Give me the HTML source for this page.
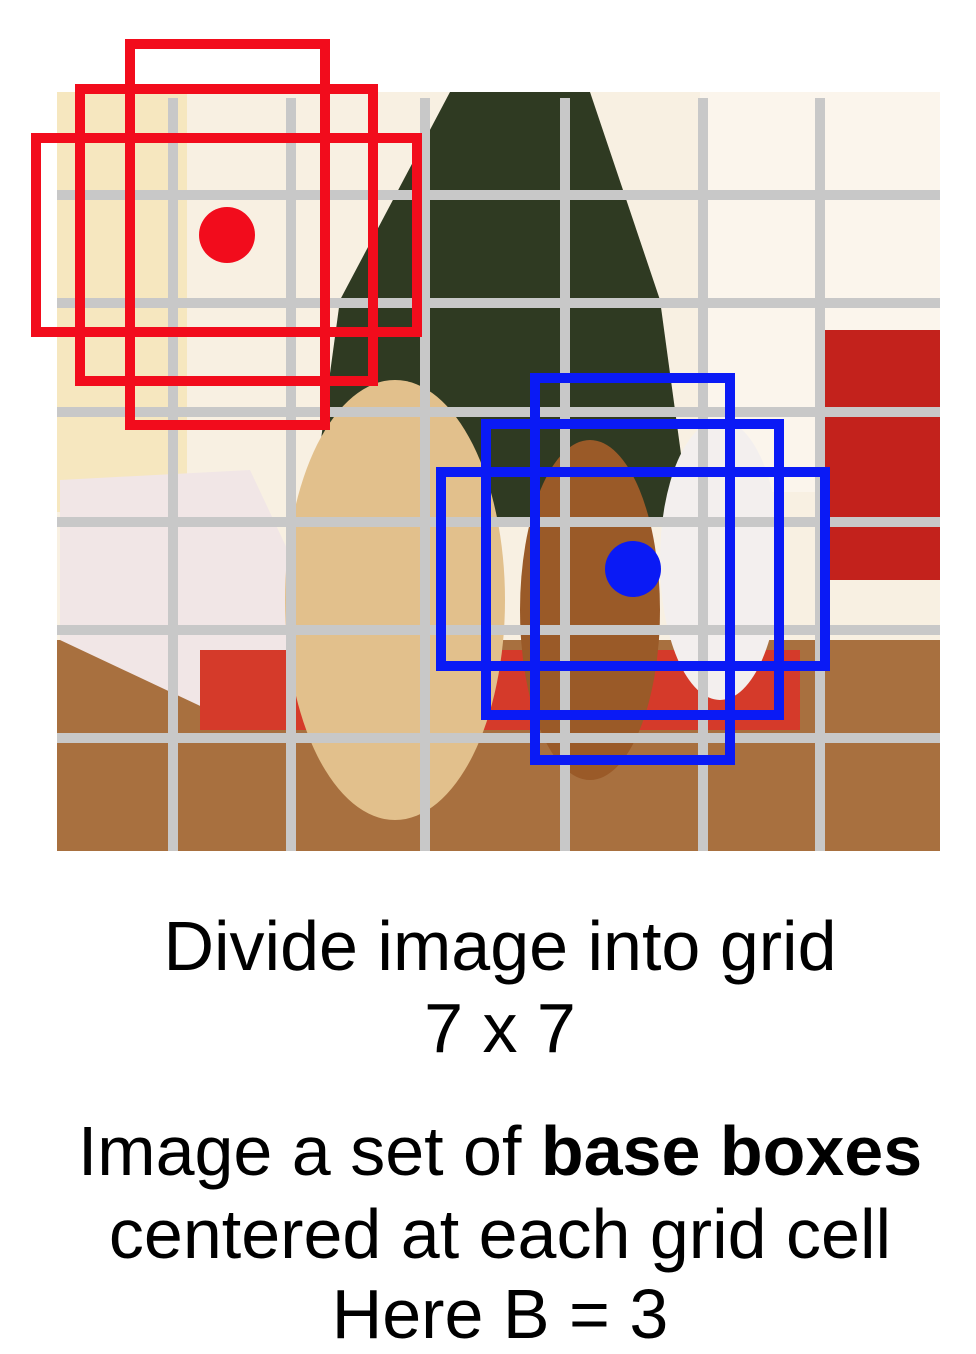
<!DOCTYPE html>
<html><head><meta charset="utf-8"><style>
body{margin:0;background:#fff;width:976px;height:1354px;overflow:hidden;font-family:"Liberation Sans",sans-serif}
svg{position:absolute;left:0;top:0}
.t{position:absolute;left:0;width:1000px;text-align:center;color:#000;font-size:70px;line-height:1;white-space:nowrap}
</style></head><body>
<svg width="976" height="870">
 <g>
  <rect x="57" y="92" width="883" height="759" fill="#f8f0e2"/>
  <rect x="57" y="92" width="130" height="420" fill="#f5e2b0" opacity="0.7"/>
  <rect x="700" y="92" width="240" height="400" fill="#fbf5ec"/>
  <polygon points="450,92 590,92 660,300 690,520 310,520 340,300" fill="#2f3a22"/>
  <rect x="57" y="640" width="883" height="211" fill="#a8703f"/>
  <rect x="820" y="330" width="120" height="250" fill="#c3221c"/>
  <polygon points="60,480 250,470 330,640 230,720 60,640" fill="#f1e6e6"/>
  <rect x="200" y="650" width="600" height="80" fill="#d53a2a"/>
  <ellipse cx="395" cy="600" rx="110" ry="220" fill="#e2c08c"/>
  <ellipse cx="590" cy="610" rx="70" ry="170" fill="#9a5a28"/>
  <ellipse cx="720" cy="560" rx="60" ry="140" fill="#f3efee"/>
 </g>
 <g id="grid" stroke="#c8c8c8" stroke-width="10"></g>
 <g id="boxes" fill="none" stroke-width="10"></g>
 <circle cx="227" cy="235" r="28" fill="#f20c1c"/>
 <circle cx="633" cy="569" r="28" fill="#0a1af5"/>
</svg>
<div class="t" style="top:911px">Divide image into grid</div>
<div class="t" style="top:993px">7 x 7</div>
<div class="t" style="top:1116px">Image a set of <b>base boxes</b></div>
<div class="t" style="top:1199px">centered at each grid cell</div>
<div class="t" style="top:1279px">Here B = 3</div>
<script>
const vLines=[173,291,425,565,703,820];
const hLines=[195,303,412,522,630,738];
const redBoxes=[[130,44,325,425],[80,89,373,381],[36,138,417,332]];
const blueBoxes=[[535,378,730,760],[486,424,779,715],[441,472,825,666]];
const ns='http://www.w3.org/2000/svg';
const g=document.getElementById('grid');
vLines.forEach(x=>{const l=document.createElementNS(ns,'line');l.setAttribute('x1',x);l.setAttribute('x2',x);l.setAttribute('y1',98);l.setAttribute('y2',851);


g.appendChild(l);});
hLines.forEach(y=>{const l=document.createElementNS(ns,'line');l.setAttribute('y1',y);l.setAttribute('y2',y);l.setAttribute('x1',57);l.setAttribute('x2',940);


g.appendChild(l);});
const b=document.getElementById('boxes');
function box(a,c,name){const r=document.createElementNS(ns,'rect');r.setAttribute('x',a[0]);r.setAttribute('y',a[1]);r.setAttribute('width',a[2]-a[0]);r.setAttribute('height',a[3]-a[1]);r.setAttribute('stroke',c);


b.appendChild(r);}
redBoxes.forEach(a=>box(a,'#f20c1c','red-base-box'));
blueBoxes.forEach(a=>box(a,'#0a1af5','blue-base-box'));
</script>
</body></html>
